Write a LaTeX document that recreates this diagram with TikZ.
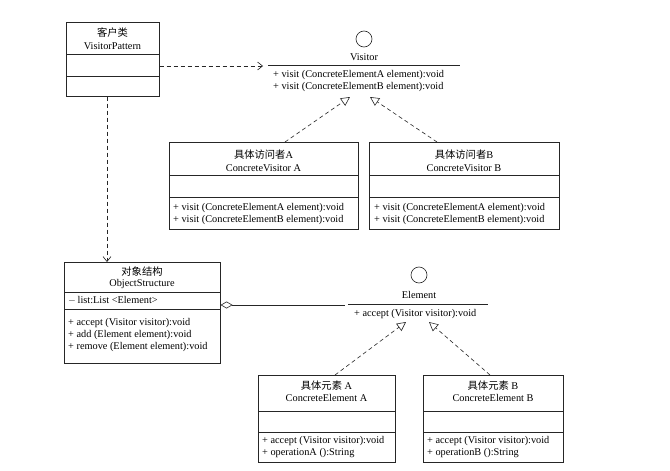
\documentclass[tikz,border=0pt]{standalone}
\usepackage{fontspec}
\setmainfont{Liberation Serif}
\newfontfamily\cjk{Noto Sans CJK SC}
\usetikzlibrary{arrows.meta}
\begin{document}
\begin{tikzpicture}[x=1pt,y=-1pt,
  cls/.style={draw=black!85,line width=0.6pt,rectangle,inner sep=0pt,anchor=north west},
  ttl/.style={font=\fontsize{10.3}{12}\selectfont,inner sep=0pt,anchor=center},
  mth/.style={font=\fontsize{10.3}{12}\selectfont,inner sep=0pt,anchor=west},
  ln/.style={draw=black!85,line width=0.6pt},
  dep/.style={ln,dashed,dash pattern=on 4pt off 3pt,-{Straight Barb[length=5pt,width=8pt]}},
  real/.style={ln,dashed,dash pattern=on 4pt off 3pt,-{Triangle[open,length=9pt,width=9pt]}},
  iface/.style={circle,draw=black!85,line width=0.6pt,minimum size=16pt,inner sep=0pt}]
\useasboundingbox (0,0) rectangle (670,471);
\fill[white] (0,0) rectangle (670,471);

% VisitorPattern
\node[cls,minimum width=93pt,minimum height=74pt] (vp) at (66,22) {};
\draw[ln] (66,54) -- (159,54);
\draw[ln] (66,76) -- (159,76);
\node[ttl] (vpt1) at (112.5,33) {\cjk 客户类};
\node[ttl] (vpt2) at (112.5,46) {VisitorPattern};

% Visitor interface
\node[iface] (vc) at (364,39) {};
\node[ttl] (vn) at (364,57) {Visitor};
\coordinate (vl) at (268,65);
\coordinate (vr) at (460,65);
\draw[ln] (vl) -- (vr);
\node[mth] (vm1) at (273,75) {+ visit (ConcreteElementA element):void};
\node[mth] (vm2) at (273,87) {+ visit (ConcreteElementB element):void};
\coordinate (vtipA) at (350,97);
\coordinate (vtipB) at (370,97);

% ConcreteVisitor A
\node[cls,minimum width=189pt,minimum height=87pt] (cva) at (169,142) {};
\draw[ln] (169,175) -- (358,175);
\draw[ln] (169,197) -- (358,197);
\node[ttl] (cvat1) at (263.5,155) {{\cjk 具体访问者}A};
\node[ttl] (cvat2) at (263.5,168) {ConcreteVisitor A};
\node[mth] (cvam1) at (173,208) {+ visit (ConcreteElementA element):void};
\node[mth] (cvam2) at (173,220) {+ visit (ConcreteElementB element):void};

% ConcreteVisitor B
\node[cls,minimum width=190pt,minimum height=87pt] (cvb) at (369,142) {};
\draw[ln] (369,175) -- (559,175);
\draw[ln] (369,197) -- (559,197);
\node[ttl] (cvbt1) at (464,155) {{\cjk 具体访问者}B};
\node[ttl] (cvbt2) at (464,168) {ConcreteVisitor B};
\node[mth] (cvbm1) at (374,208) {+ visit (ConcreteElementA element):void};
\node[mth] (cvbm2) at (374,220) {+ visit (ConcreteElementB element):void};

% ObjectStructure
\node[cls,minimum width=156pt,minimum height=101pt] (os) at (64,262) {};
\draw[ln] (64,292) -- (220,292);
\draw[ln] (64,309) -- (220,309);
\node[ttl] (ost1) at (142,272) {\cjk 对象结构};
\node[ttl] (ost2) at (142,284) {ObjectStructure};
\node[mth] (osa) at (68,300) {$-$\,list:List <Element>};
\node[mth] (osm1) at (68,323) {+ accept (Visitor visitor):void};
\node[mth] (osm2) at (68,335) {+ add (Element element):void};
\node[mth] (osm3) at (68,347) {+ remove (Element element):void};

% Element interface
\node[iface] (ec) at (419,275) {};
\node[ttl] (en) at (419,295) {Element};
\coordinate (el) at (348,304);
\coordinate (er) at (488,304);
\draw[ln] (el) -- (er);
\node[mth] (em1) at (354,314) {+ accept (Visitor visitor):void};
\coordinate (etipA) at (406,322);
\coordinate (etipB) at (429,322);

% ConcreteElement A
\node[cls,minimum width=137pt,minimum height=87pt] (cea) at (258,375) {};
\draw[ln] (258,411) -- (395,411);
\draw[ln] (258,432) -- (395,432);
\node[ttl] (ceat1) at (326.5,386) {{\cjk 具体元素} A};
\node[ttl] (ceat2) at (326.5,398) {ConcreteElement A};
\node[mth] (ceam1) at (262,441) {+ accept (Visitor visitor):void};
\node[mth] (ceam2) at (262,453) {+ operationA ():String};

% ConcreteElement B
\node[cls,minimum width=140pt,minimum height=87pt] (ceb) at (423,375) {};
\draw[ln] (423,411) -- (563,411);
\draw[ln] (423,432) -- (563,432);
\node[ttl] (cebt1) at (493,386) {{\cjk 具体元素} B};
\node[ttl] (cebt2) at (493,398) {ConcreteElement B};
\node[mth] (cebm1) at (427,441) {+ accept (Visitor visitor):void};
\node[mth] (cebm2) at (427,453) {+ operationB ():String};

% connectors
\draw[dep] (vp.east |- 0,66) -- (263,66);
\draw[dep] (vp.south -| 107,0) -- (os.north -| 107,0);
\draw[real] (cva.north -| 285,0) -- (vtipA);
\draw[real] (cvb.north -| 437,0) -- (vtipB);
\draw[real] (cea.north -| 335,0) -- (etipA);
\draw[real] (ceb.north -| 490,0) -- (etipB);
\draw[ln,{Diamond[open,length=12pt,width=7pt]}-] (os.east |- 0,305) -- (345,305);
\end{tikzpicture}
\end{document}
